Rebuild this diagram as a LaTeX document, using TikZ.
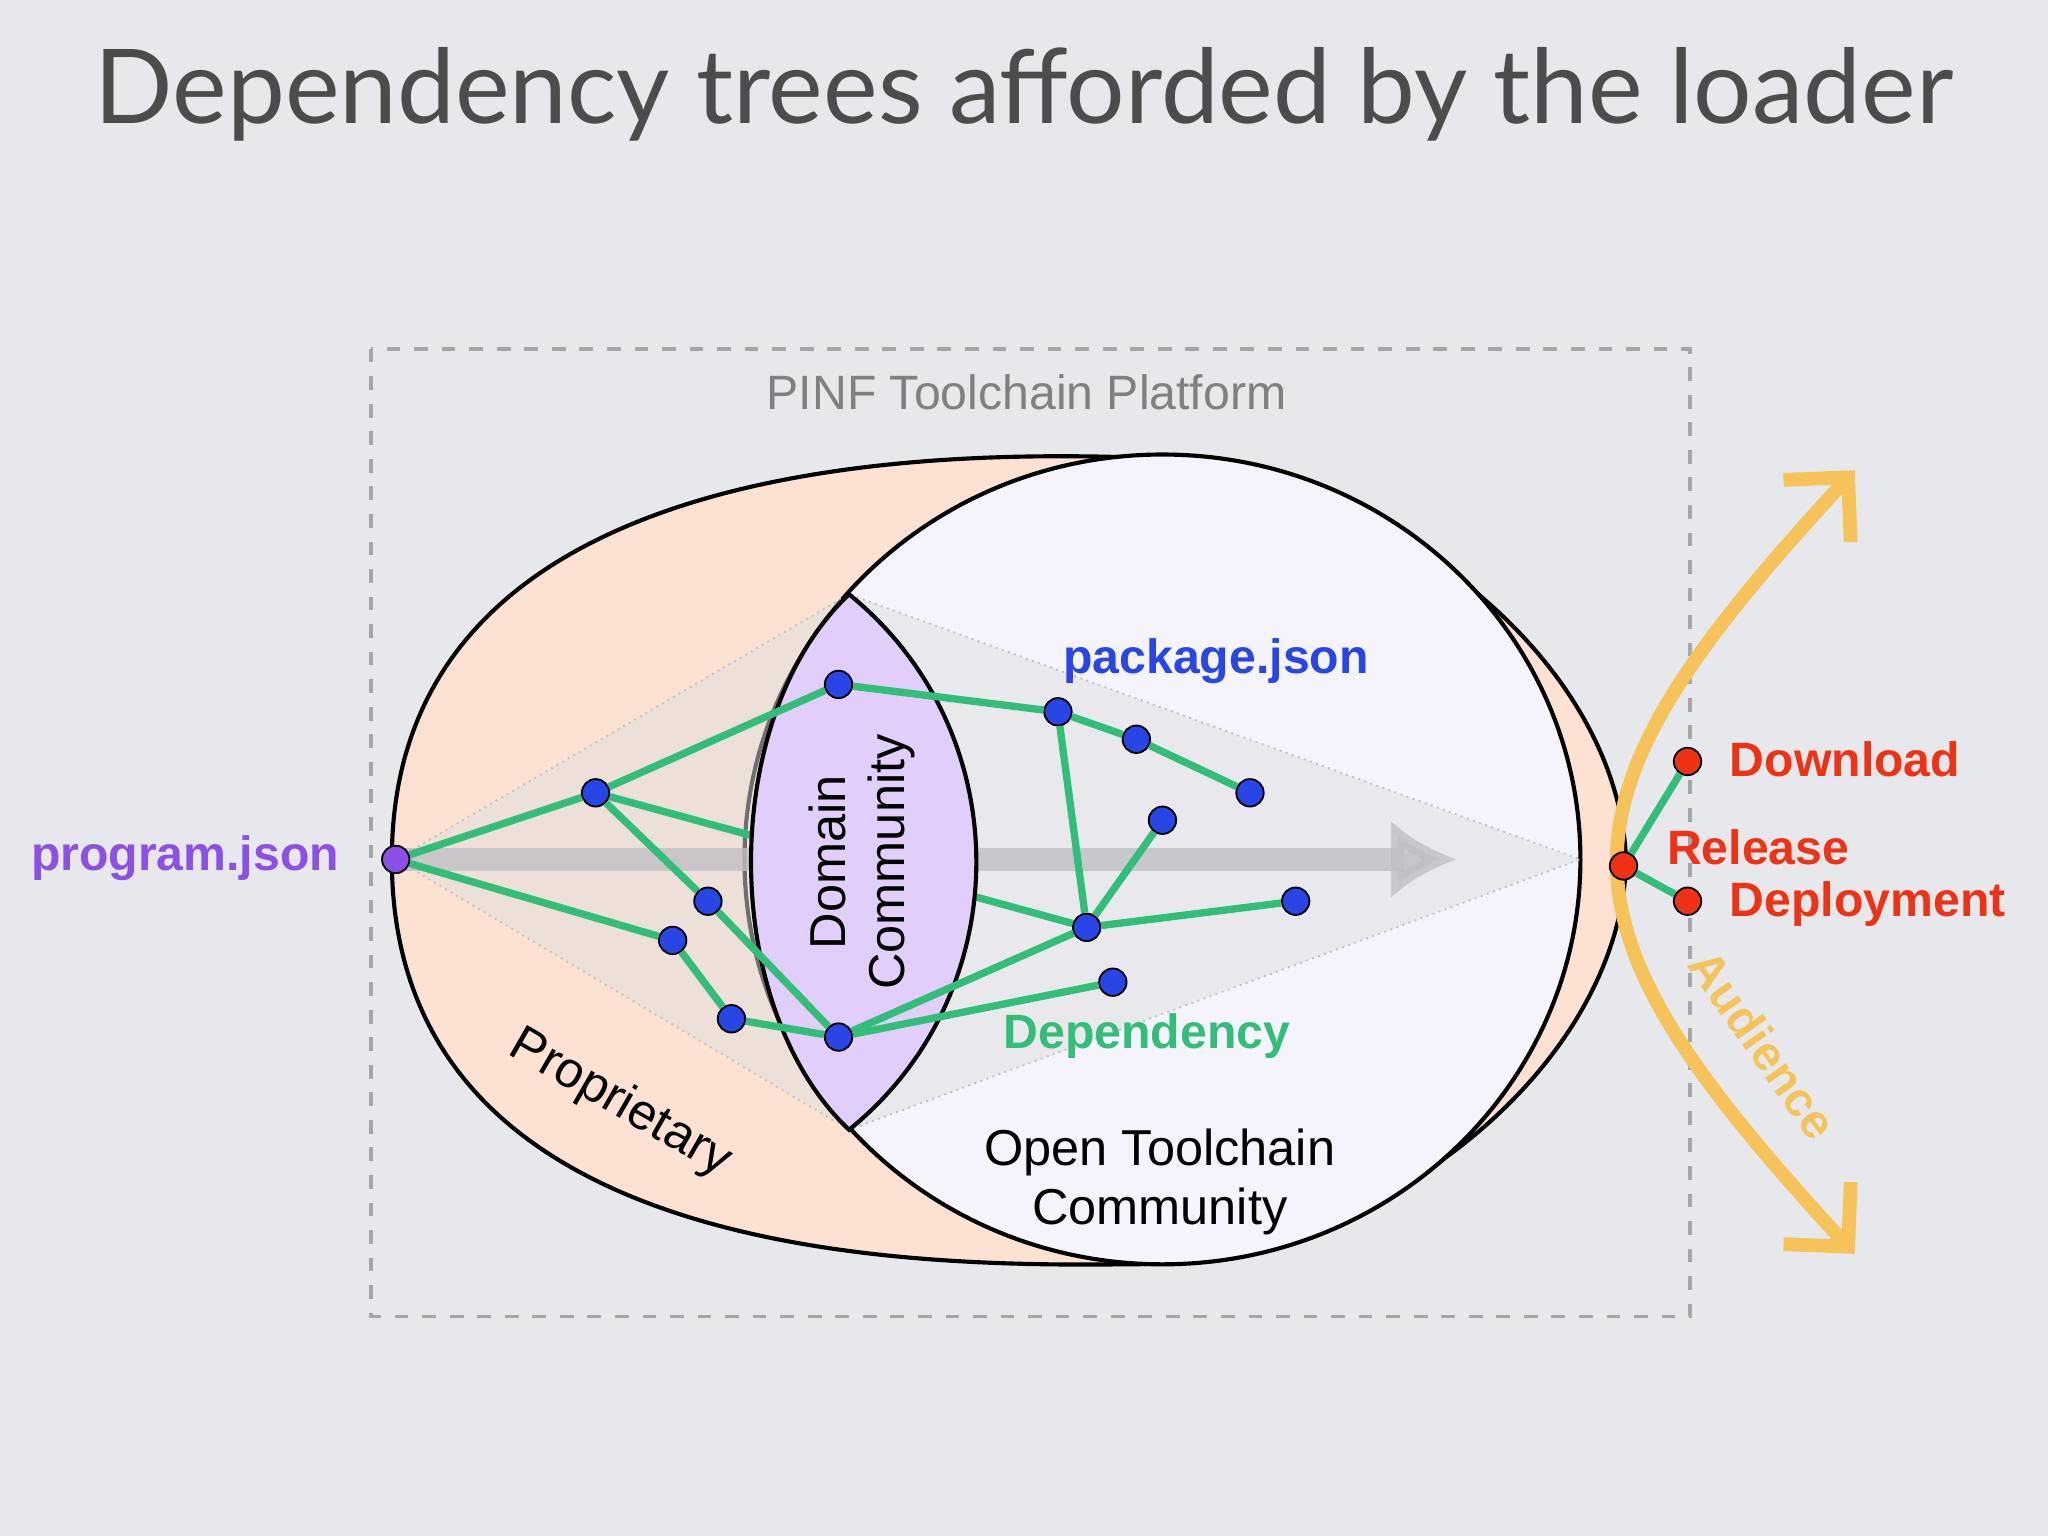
\documentclass[tikz,border=0pt]{standalone}
\usepackage{fontspec}
\setmainfont{Liberation Sans}
\newfontfamily\titlefont{Lato}
\usetikzlibrary{arrows.meta}
\definecolor{bgcol}{RGB}{230,232,236}
\definecolor{propcol}{RGB}{253,226,212}
\definecolor{opencol}{RGB}{245,243,252}
\definecolor{domcol}{RGB}{226,206,250}
\definecolor{depcol}{RGB}{50,190,120}
\definecolor{pkgcol}{RGB}{40,70,230}
\definecolor{progcol}{RGB}{140,80,230}
\definecolor{relcol}{RGB}{240,50,20}
\definecolor{audcol}{RGB}{245,195,90}
\tikzset{
  pkg/.style={circle, draw=black, fill=pkgcol, inner sep=0pt, minimum size=0.21cm},
  rel/.style={circle, draw=black, fill=relcol, inner sep=0pt, minimum size=0.21cm},
  dep/.style={depcol, line width=1.6pt},
  lbl/.style={font=\bfseries\fontsize{10.5}{12}\selectfont},
}
\begin{document}
\begin{tikzpicture}[y=-1cm]
\fill[bgcol] (0,0) rectangle (15.68,11.76);
\useasboundingbox (0,0) rectangle (15.68,11.76);

\node[font=\titlefont\fontsize{22.5}{27}\selectfont, text=black!70] (title) at (7.84,0.72) {Dependency trees afforded by the loader};

% platform frame
\draw[gray!70, dashed, line width=0.8pt] (2.84,2.67) rectangle (12.94,10.08);
\node[text=gray, font=\fontsize{10.5}{12}\selectfont] (pinf) at (7.86,3.0) {PINF Toolchain Platform};

% communities
\filldraw[fill=propcol, line width=0.9pt] (3.0,6.58) .. controls (3.0,3.6) and (6.8,3.45) .. (8.6,3.5)
  .. controls (10.5,3.55) and (12.4,5.0) .. (12.45,6.6)
  .. controls (12.4,8.2) and (10.5,9.7) .. (8.6,9.68)
  .. controls (6.8,9.7) and (3.0,9.6) .. (3.0,6.58);
\filldraw[fill=opencol, line width=0.9pt] (8.9,6.58) ellipse (3.2cm and 3.1cm);

% light cone
\fill[gray!25, opacity=0.5] (3.03,6.58) -- (6.5,4.55) -- (12.1,6.58) -- (6.5,8.65) -- cycle;
\draw[gray!50, densely dotted] (3.03,6.58) -- (6.5,4.55) -- (12.1,6.58) -- (6.5,8.65) -- cycle;
\draw[-{Latex[length=0.5cm,width=0.6cm]}, line width=5pt, gray!45!opencol, opacity=0.8] (3.1,6.58) -- (11.15,6.58);

\node[pkg] (a) at (4.56,6.07) {};
\node[pkg] (k) at (8.32,7.10) {};
\draw[dep] (a) -- (k);

% domain community
\filldraw[fill=domcol, line width=0.9pt] (6.5,4.55) .. controls (5.5,5.5) and (5.5,7.7) .. (6.5,8.65)
  .. controls (7.8,7.6) and (7.8,5.6) .. (6.5,4.55);
\node[rotate=90, align=center, font=\fontsize{11}{13}\selectfont] (dom) at (6.6,6.6) {Domain\\Community};

\node[pkg] (b) at (6.42,5.24) {};
\node[pkg] (c) at (8.10,5.45) {};
\node[pkg] (d) at (8.70,5.66) {};
\node[pkg] (e) at (9.57,6.07) {};
\node[pkg] (f) at (8.90,6.28) {};
\node[pkg] (g) at (5.42,6.90) {};
\node[pkg] (h) at (5.15,7.20) {};
\node[pkg] (i) at (5.60,7.80) {};
\node[pkg] (j) at (6.42,7.94) {};
\node[pkg] (l) at (9.92,6.90) {};
\node[pkg] (m) at (8.52,7.52) {};
\node[circle, draw=black, fill=progcol, inner sep=0pt, minimum size=0.21cm] (p) at (3.03,6.58) {};
\foreach \u/\v in {p/a, p/h, a/b, b/c, c/d, d/e, a/g, g/j, h/i, i/j, j/k, j/m, k/f, k/l, c/k}
  \draw[dep] (\u) -- (\v);

% release
\draw[audcol, line width=3pt, {Straight Barb[length=0.35cm,width=0.7cm]}-{Straight Barb[length=0.35cm,width=0.7cm]}]
  (14.2,3.6) .. controls (11.8,6.2) and (11.8,7.0) .. (14.2,9.6);
\node[rel] (r) at (12.43,6.63) {};
\node[rel] (dl) at (12.92,5.83) {};
\node[rel] (dp) at (12.92,6.90) {};
\draw[dep] (r) -- (dl);
\draw[dep] (r) -- (dp);

% labels
\node[lbl, text=progcol, anchor=east] (pl) at (2.72,6.57) {program.json};
\node[lbl, text=pkgcol] (kl) at (9.31,5.06) {package.json};
\node[lbl, text=depcol] (dlb) at (8.78,7.93) {Dependency};
\node[lbl, text=relcol, anchor=west] (dll) at (13.12,5.81) {Download};
\node[lbl, text=relcol, anchor=west] (rl) at (12.64,6.49) {Release};
\node[lbl, text=relcol, anchor=west] (dpl) at (13.12,6.92) {Deployment};
\node[lbl, text=audcol, rotate=-55] (al) at (13.5,8.0) {Audience};
\node[rotate=-30, font=\fontsize{11}{13}\selectfont] (prop) at (4.75,8.45) {Proprietary};
\node[align=center, font=\fontsize{11}{13}\selectfont] (open) at (8.88,9.05) {Open Toolchain\\Community};
\end{tikzpicture}
\end{document}
